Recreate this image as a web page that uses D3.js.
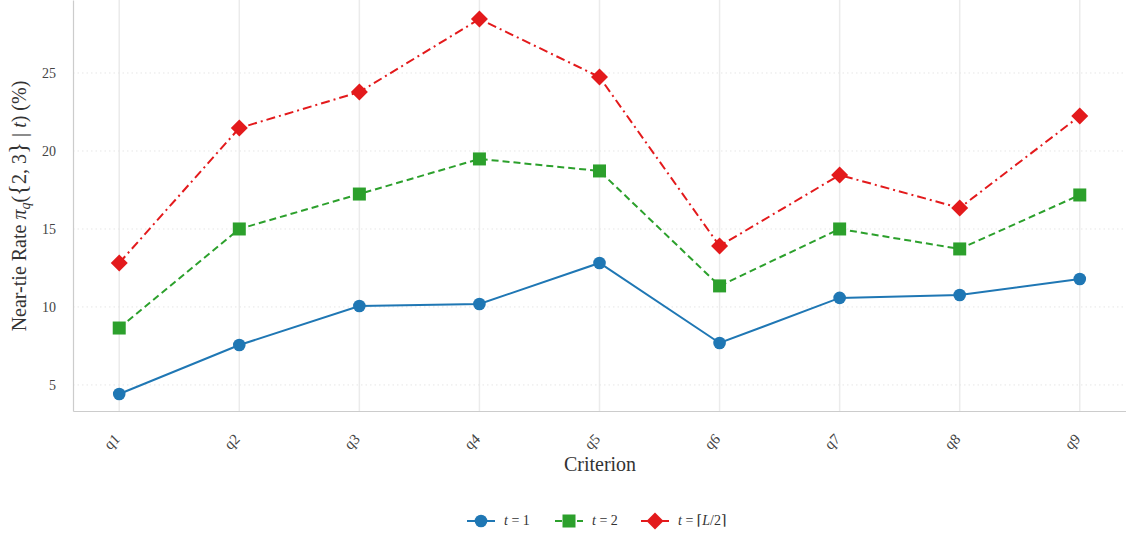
<!DOCTYPE html>
<html><head><meta charset="utf-8">
<script src="https://cdn.jsdelivr.net/npm/d3@7"></script>
<style>body{margin:0;background:#fff}svg{display:block}</style>
</head><body>
<svg id="c" width="1126" height="533"></svg>
<script>
const categories = ["q1","q2","q3","q4","q5","q6","q7","q8","q9"];
const t1 = [4.42, 7.56, 10.06, 10.19, 12.82, 7.69, 10.58, 10.77, 11.79];
const t2 = [8.65, 15.0, 17.24, 19.49, 18.72, 11.35, 15.0, 13.72, 17.18];
const tHalf = [12.82, 21.47, 23.78, 28.46, 24.74, 13.91, 18.46, 16.35, 22.24];
const yTicks = [5, 10, 15, 20, 25];

const series = [
  {name:"t1", values:t1, color:"#1f77b4", dash:null, marker:"circle"},
  {name:"t2", values:t2, color:"#2ca02c", dash:"7,4", marker:"square"},
  {name:"tL", values:tHalf, color:"#e31a1c", dash:"9,4,2,4", marker:"diamond"}
];

const svg = d3.select("#c");
const L = 73, R = 1126, T = 0, B = 411;
const x = d3.scalePoint().domain(categories).range([L, R]).padding(0.385);
const y = d3.scaleLinear().domain([3.33, 29.68]).range([B, T]);
const serif = "'Liberation Serif','DejaVu Serif',serif";

// grids
svg.append("g").selectAll("line").data(categories).join("line")
  .attr("x1", d=>x(d)).attr("x2", d=>x(d)).attr("y1", T).attr("y2", B)
  .attr("stroke", "#ebebeb").attr("stroke-width", 1.5);
svg.append("g").selectAll("line").data(yTicks).join("line")
  .attr("x1", L).attr("x2", R).attr("y1", d=>y(d)).attr("y2", d=>y(d))
  .attr("stroke", "#e6e6e6").attr("stroke-width", 1).attr("stroke-dasharray", "1.5,3");

// axes
const yAx = svg.append("g").attr("transform", `translate(${L},0)`)
  .call(d3.axisLeft(y).tickValues(yTicks).tickSize(0).tickPadding(17));
yAx.select(".domain").attr("stroke", "#cccccc").attr("stroke-width", 1.2);
yAx.selectAll("text").attr("font-family", serif).attr("font-size", 14).attr("fill", "#444");

const xAx = svg.append("g").attr("transform", `translate(0,${B})`)
  .call(d3.axisBottom(x).tickSize(0).tickPadding(0));
xAx.select(".domain").attr("stroke", "#cccccc").attr("stroke-width", 1.2);
xAx.selectAll("text").attr("font-family", serif).attr("font-size", 15).attr("fill", "#444")
  .attr("text-anchor", "end").attr("dy", null).attr("y", 0)
  .attr("transform", "translate(1,29) rotate(-45)");

// lines
const line = d3.line().x((d,i)=>x(categories[i])).y(d=>y(d));
series.forEach(s=>{
  svg.append("path").datum(s.values).attr("d", line)
    .attr("fill","none").attr("stroke", s.color).attr("stroke-width", 2)
    .attr("stroke-dasharray", s.dash);
});

function drawMarker(g, type, cx, cy, color, k=1){
  if(type==="circle") g.append("circle").attr("cx",cx).attr("cy",cy).attr("r",6.3*k).attr("fill",color);
  else if(type==="square") g.append("rect").attr("x",cx-6.5*k).attr("y",cy-6.5*k).attr("width",13*k).attr("height",13*k).attr("fill",color);
  else g.append("path").attr("d",`M${cx},${cy-8.5*k}L${cx+8.5*k},${cy}L${cx},${cy+8.5*k}L${cx-8.5*k},${cy}Z`).attr("fill",color);
}
series.forEach(s=>{
  const g = svg.append("g");
  s.values.forEach((v,i)=>drawMarker(g, s.marker, x(categories[i]), y(v), s.color));
});

// axis titles
const yl = svg.append("text").attr("transform", "translate(26,206) rotate(-90)")
  .attr("text-anchor","middle").attr("font-family", serif).attr("font-size", 20).attr("fill","#333");
yl.append("tspan").text("Near-tie Rate ");
yl.append("tspan").attr("font-style","italic").text("π");
yl.append("tspan").attr("font-style","italic").attr("font-size",14).attr("dy",4).text("q");
yl.append("tspan").attr("dy",-4).text("(");
yl.append("tspan").attr("font-size",25).text("{");
yl.append("tspan").text("2, 3");
yl.append("tspan").attr("font-size",25).text("}");
yl.append("tspan").text(" | ");
yl.append("tspan").attr("font-style","italic").text("t");
yl.append("tspan").text(") (%)");

svg.append("text").attr("x", 600).attr("y", 471).attr("text-anchor","middle")
  .attr("font-family", serif).attr("font-size", 20).attr("fill","#333").text("Criterion");

// legend
const legend = [
  {s:series[0], lx:467, label:"t = 1"},
  {s:series[1], lx:555, label:"t = 2"},
  {s:series[2], lx:641, label:"t = ⌈L/2⌉"}
];
const ly = 521;
legend.forEach(it=>{
  const g = svg.append("g");
  g.append("line").attr("x1", it.lx).attr("x2", it.lx+28).attr("y1", ly).attr("y2", ly)
    .attr("stroke", it.s.color).attr("stroke-width", 2).attr("stroke-dasharray", it.s.dash);
  drawMarker(g, it.s.marker, it.lx+14, ly, it.s.color, 1.0);
  const tx = g.append("text").attr("x", it.lx+37).attr("y", ly+4).attr("font-family", serif)
    .attr("font-size", 14).attr("fill","#333");
  const parts = it.label.split(" = ");
  tx.append("tspan").attr("font-style","italic").text(parts[0]);
  tx.append("tspan").text(" = ");
  if(parts[1].includes("L")){
    tx.append("tspan").text("⌈");
    tx.append("tspan").attr("font-style","italic").text("L");
    tx.append("tspan").text("/2⌉");
  } else tx.append("tspan").text(parts[1]);
});
</script>
</body></html>
